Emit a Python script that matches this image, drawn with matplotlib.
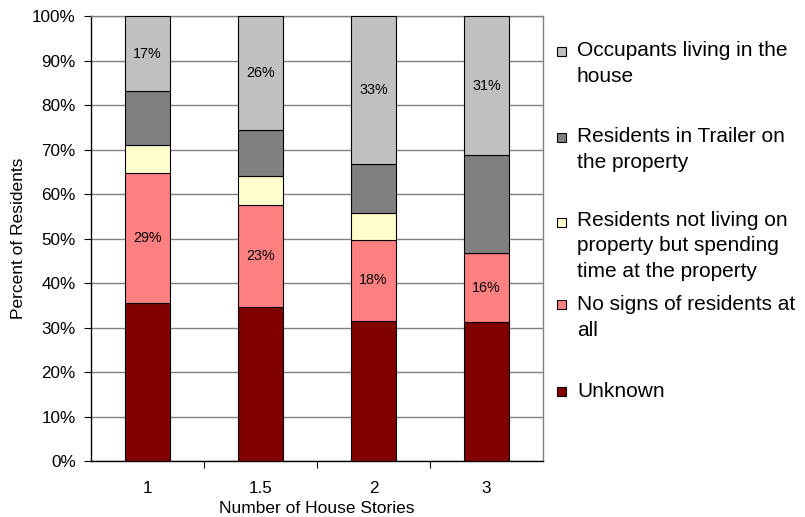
import matplotlib
matplotlib.use("Agg")
import matplotlib.pyplot as plt
from matplotlib.patches import Rectangle
import numpy as np

plt.rcParams['font.family'] = ['Liberation Sans', 'DejaVu Sans']

categories = ["1", "1.5", "2", "3"]
series_names = [
    "Unknown",
    "No signs of residents at\nall",
    "Residents not living on\nproperty but spending\ntime at the property",
    "Residents in Trailer on\nthe property",
    "Occupants living in the\nhouse",
]
unknown = [35.6, 34.6, 31.6, 31.2]
no_signs = [29.1, 23.0, 18.1, 15.6]
not_living = [6.3, 6.6, 6.1, 0.0]
trailer = [12.2, 10.2, 10.9, 22.0]
occupants = [16.8, 25.6, 33.3, 31.2]
colors = ["#800000", "#FF8080", "#FFFFCC", "#808080", "#C0C0C0"]
labeled = [False, True, False, False, True]
y_ticks = [0, 10, 20, 30, 40, 50, 60, 70, 80, 90, 100]

fig = plt.figure(figsize=(8.05, 5.17), dpi=100)
ax = fig.add_axes([91/805, 1-461.3/517, (543-91)/805, (461.3-16.3)/517])

x = np.arange(len(categories))
bottom = np.zeros(len(categories))
all_series = [unknown, no_signs, not_living, trailer, occupants]
for vals, col, lab in zip(all_series, colors, labeled):
    vals = np.array(vals)
    bars = ax.bar(x, vals, 0.4, bottom=bottom, color=col, edgecolor='black',
                  linewidth=0.8, zorder=3)
    if lab:
        ax.bar_label(bars, labels=[f"{v:.0f}%" for v in vals], label_type='center',
                     fontsize=10.3, color='black')
    bottom += vals

ax.set_xlim(-0.5, len(categories) - 0.5)
ax.set_ylim(0, 100)
ax.set_yticks(y_ticks)
ax.set_yticklabels([f"{t}%" for t in y_ticks], fontsize=12.3)
ax.set_xticks(x)
ax.set_xticklabels(categories, fontsize=12.3)
ax.set_xticks(np.arange(0.5, len(categories) - 0.5, 1), minor=True)
ax.tick_params(axis='x', which='major', length=0, pad=14)
ax.tick_params(axis='x', which='minor', length=5, width=0.8, direction='out', color='black')
ax.tick_params(axis='y', length=5, width=0.8, direction='out', pad=6)
ax.yaxis.grid(True, color='#808080', linewidth=1.0, zorder=0)
ax.set_axisbelow(True)
for s in ['left', 'bottom']:
    ax.spines[s].set_color('black')
    ax.spines[s].set_linewidth(1.0)
for s in ['top', 'right']:
    ax.spines[s].set_color('#808080')
    ax.spines[s].set_linewidth(1.0)

ax.set_xlabel("Number of House Stories", fontsize=12.5, labelpad=4)
ax.set_ylabel("Percent of Residents", fontsize=12.5, labelpad=4)

# legend (manual, reversed order as in reference)
first_baselines = [396.7, 310, 228, 142.7, 56.7]
last_baselines = [396.7, 335.5, 277, 167.5, 81.7]
for name, col, yf, yl in zip(series_names, colors, first_baselines, last_baselines):
    fig.patches.append(Rectangle((557/805, 1-(yf-1)/517), 9/805, 9/517,
                                 transform=fig.transFigure, facecolor=col,
                                 edgecolor='black', linewidth=0.8))
    fig.text(577/805, 1-yl/517, name, fontsize=15, va='baseline', ha='left',
             linespacing=1.45)

fig.savefig("out.png", dpi=100)
